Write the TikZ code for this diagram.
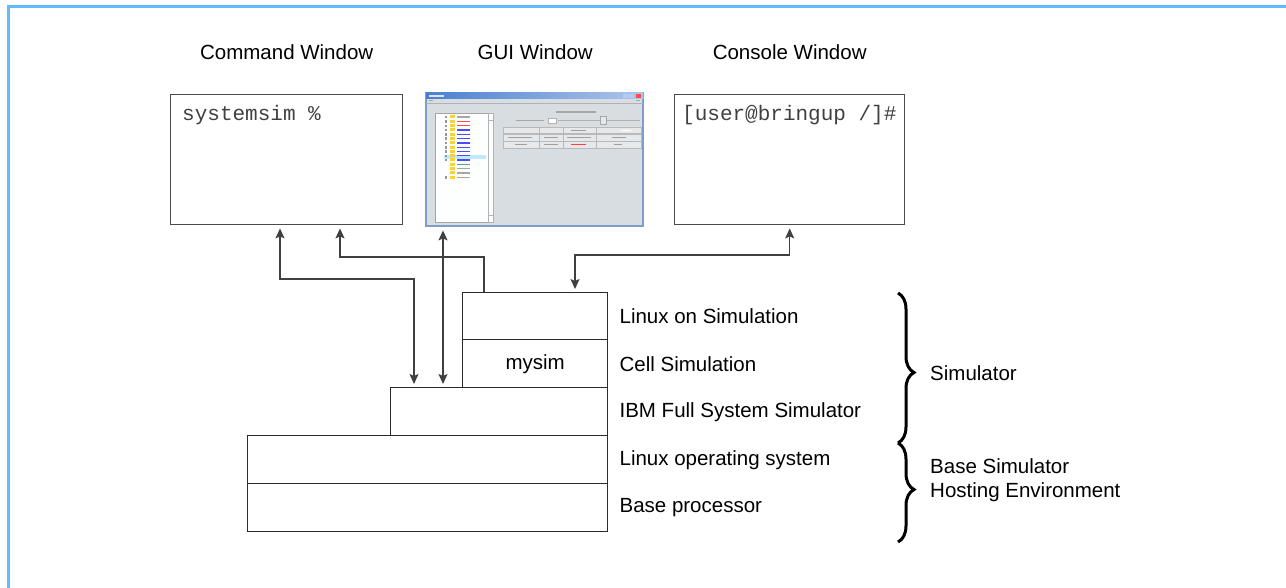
\documentclass[tikz,border=0pt]{standalone}
\usepackage{fontspec}
\setmainfont{Liberation Sans}
\setmonofont{Liberation Mono}
\usetikzlibrary{arrows.meta, positioning, calc, decorations.pathreplacing}

\definecolor{framecol}{HTML}{62BAFF}
\definecolor{linecol}{HTML}{2B2B2B}
\definecolor{guibg}{HTML}{D7DDE1}
\definecolor{guiedge}{HTML}{7F9DC9}
\definecolor{guibar}{HTML}{4A7FD0}
\definecolor{guibtn}{HTML}{E6E9EB}

\tikzset{
  layer/.style={draw=linecol, line width=1.4pt, anchor=north west, inner sep=0pt,
    font=\fontsize{20.5}{24}\selectfont},
  winbox/.style={draw=linecol!85, line width=1.4pt, anchor=north west, inner sep=0pt},
  wintitle/.style={anchor=base, inner sep=0pt, font=\fontsize{20.5}{24}\selectfont},
  prompt/.style={anchor=north west, inner sep=0pt, text=black!75, font=\ttfamily\fontsize{21}{24}\selectfont},
  sidelabel/.style={inner sep=0pt, font=\fontsize{20.5}{24}\selectfont},
  conn/.style={draw=linecol!90, line width=1.3pt, >={Stealth[length=10pt,width=9pt,inset=2pt]},
    shorten <=3pt, shorten >=3pt},
  bracepath/.style={line width=3pt, decorate, decoration={brace, amplitude=16pt, aspect=0.53}},
}

\begin{document}
\begin{tikzpicture}[x=1pt, y=-1pt]
  \useasboundingbox (0,0) rectangle (1286,588);
  \draw[framecol, line width=3pt] (1286,7) -- (8,7) -- (8,588);

  % windows
  \node[winbox, minimum width=232pt, minimum height=130pt] (cmdwin) at (170,94) {};
  \node[winbox, draw=none, minimum width=217pt, minimum height=133pt] (guiwin) at (426,93) {};
  \node[winbox, minimum width=230pt, minimum height=130pt] (conwin) at (674,94) {};

  \node[wintitle] (cmdtitle) at ([yshift=34pt]cmdwin.north) {Command Window};
  \node[wintitle] (guititle) at ([yshift=33pt]guiwin.north) {GUI Window};
  \node[wintitle] (contitle) at ([yshift=34pt]conwin.north) {Console Window};

  \node[prompt] (cmdprompt) at ([shift={(12pt,-11pt)}]cmdwin.north west) {systemsim \%};
  \node[prompt] (conprompt) at ([shift={(8pt,-11pt)}]conwin.north west) {[user@bringup /]\#};

  % screenshot of the GUI
  \begin{scope}[shift={(426,93)}]
    \draw[guiedge, fill=guibg, line width=1.5pt] (0,0) rectangle (217,133);
    \shade[left color=guibar, right color=guibar!45] (0,0) rectangle (217,6);
    \fill[white!80!guibar] (3,2) rectangle (18,4);
    \foreach \x/\c in {197/guibar!40, 203/guibar!40, 210/red!70} {
      \fill[\c] (\x,1) rectangle ++(5,4);
    }
    \draw[gray!60] (0,10) -- (217,10);
    \fill[gray!70] (3,7.5) rectangle (7,8.5);
    \fill[gray!70] (210,7.5) rectangle (214,8.5);
    % tree panel
    \draw[gray!70, fill=white!96!guibg] (9,20) rectangle (67,129);
    \draw[gray!60] (62,20) rectangle (67,129);
    \draw[gray!60] (62,27) -- (67,27) (62,122) -- (67,122);
    \fill[cyan!25] (18,62.5) rectangle (60,66.5);
    \foreach \i/\c/\p in {0/gray/1, 1/red/1, 2/red/1, 3/blue/1, 4/blue/1, 5/blue/1, 6/blue/1,
                          7/blue/1, 8/blue/1, 9/blue/1, 10/blue/1, 11/teal/0, 12/gray/0,
                          13/gray/0, 14/gray/1} {
      \fill[yellow!60!orange!80] (24,22.5+\i*4.3) rectangle ++(5,3);
      \fill[\c!70] (31,23.5+\i*4.3) rectangle ++(13,1.3);
      \ifnum\p=1 \fill[gray!80] (18.5,23+\i*4.3) rectangle ++(2.5,2.5); \fi
    }
    % control panel
    \fill[gray!70] (130,18.5) rectangle (170,19.7);
    \fill[gray!70] (90,27) rectangle (118,28.2);
    \draw[gray!60, fill=white] (122,25) rectangle (130,30);
    \draw[gray!60] (132,27.5) -- (214,27.5);
    \draw[gray!70, fill=guibtn] (174,23) rectangle (180,31);
    \foreach \r in {0,1,2} {
      \foreach \xa/\xb in {77/113, 113/137, 137/170, 170/215} {
        \draw[gray!55, fill=guibtn] (\xa,34+\r*7.3) rectangle (\xb,40.5+\r*7.3);
      }
    }
    \foreach \xa/\xb/\r/\c in {145/160/0/gray, 195/205/0/white, 82/106/1/gray, 118/132/1/gray,
                               141/165/1/gray, 186/200/1/gray, 89/101/2/gray, 118/132/2/gray,
                               145/160/2/red, 188/196/2/gray} {
      \fill[\c!75] (\xa,36.8+\r*7.3) rectangle (\xb,37.8+\r*7.3);
    }
  \end{scope}

  % layers
  \node[layer, minimum width=145pt, minimum height=47pt] (linuxsim) at (462,292) {};
  \node[layer, minimum width=145pt, minimum height=48pt] (cellsim) at (462,339) {mysim};
  \node[layer, minimum width=217pt, minimum height=48pt] (ibm) at (390,387) {};
  \node[layer, minimum width=360pt, minimum height=48pt] (linuxos) at (247,435) {};
  \node[layer, minimum width=360pt, minimum height=48pt] (baseproc) at (247,483) {};

  \node[sidelabel, right=11pt of linuxsim] (lbllinuxsim) {Linux on Simulation};
  \node[sidelabel, right=11pt of cellsim] (lblcellsim) {Cell Simulation};
  \node[sidelabel, right=11pt of ibm] (lblibm) {IBM Full System Simulator};
  \node[sidelabel, right=11pt of linuxos] (lbllinuxos) {Linux operating system};
  \node[sidelabel, right=11pt of baseproc] (lblbaseproc) {Base processor};

  % connectors
  \coordinate (bendcmdA) at (280,279);
  \coordinate (bendcmdB) at (340,257);
  \coordinate (bendgui) at (443,300);
  \coordinate (bendcon) at (575,255);

  \draw[conn, <->] (cmdwin.south -| bendcmdA) -- (bendcmdA) -| ([xshift=24pt]ibm.north west);
  \draw[conn, ->, shorten <=0pt] ([xshift=22pt]linuxsim.north west) |- (bendcmdB) -- (cmdwin.south -| bendcmdB);
  \draw[conn, <->] (guiwin.south -| bendgui) -- (ibm.north -| bendgui);
  \draw[conn, <->] (conwin.south) |- (bendcon) -- (linuxsim.north -| bendcon);

  % braces
  \draw[bracepath] (898,293) -- (898,443);
  \draw[bracepath, decoration={aspect=0.47}] (898,443) -- (898,542);
  \node[sidelabel, anchor=west] (lblsim) at (930,373) {Simulator};
  \node[sidelabel, anchor=west, align=left] (lblbase) at (930,480) {Base Simulator\\Hosting Environment};
\end{tikzpicture}
\end{document}
